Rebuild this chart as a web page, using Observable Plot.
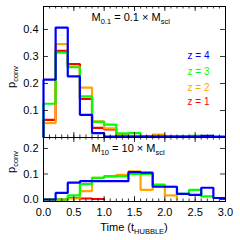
<!DOCTYPE html>
<html>
<head>
<meta charset="utf-8">
<script src="https://cdn.jsdelivr.net/npm/d3@7"></script>
<script src="https://cdn.jsdelivr.net/npm/@observablehq/plot@0.6"></script>
<style>
  html, body { margin: 0; padding: 0; background: #fff; }
  body { width: 240px; height: 240px; overflow: hidden; font-family: "Liberation Sans", Arial, sans-serif; }
  svg { display: block; }
</style>
</head>
<body>
<div id="chart"></div>
<script>
// bin start times (t_HUBBLE), bin width 0.2
const binStarts = [0.0, 0.2, 0.4, 0.6, 0.8, 1.0, 1.2, 1.4, 1.6, 1.8, 2.0, 2.2, 2.4, 2.6, 2.8];
const binEnd = 3.0;
const seriesNames = ["z = 1", "z = 2", "z = 3", "z = 4"];
const seriesColors = ["#ff0000", "#ffa500", "#00ff00", "#0000ff"];

// Top panel: M_0.1 = 0.1 x M_scl
const topZ1 = [0.065, 0.321, 0.272, 0.143, 0.036, 0.030, 0.005, 0.003, 0.003, 0.003, 0.002, 0.002, 0.002, 0.002, 0.002];
const topZ2 = [0.053, 0.346, 0.262, 0.185, 0.060, 0.034, 0.011, 0.005, 0.004, 0.011, 0.003, 0.003, 0.003, 0.003, 0.002];
const topZ3 = [0.125, 0.314, 0.260, 0.152, 0.058, 0.048, 0.015, 0.016, 0.004, 0.004, 0.003, 0.003, 0.006, 0.003, 0.002];
const topZ4 = [0.214, 0.407, 0.226, 0.084, 0.016, 0.003, 0.003, 0.003, 0.003, 0.003, 0.003, 0.003, 0.003, 0.006, 0.002];

// Bottom panel: M_10 = 10 x M_scl (null = no data)
const botZ1 = [0.000, 0.000, 0.006, 0.004, 0.002, null, null, null, null, null, null, null, null, null, null];
const botZ2 = [0.000, 0.000, 0.004, 0.033, 0.085, 0.090, 0.097, 0.110, 0.038, 0.056, 0.016, null, null, null, null];
const botZ3 = [0.000, 0.000, 0.016, 0.060, 0.085, 0.092, 0.092, 0.100, 0.100, 0.058, 0.050, 0.022, 0.038, 0.012, 0.006];
const botZ4 = [0.000, 0.026, 0.066, 0.072, 0.072, 0.072, 0.072, 0.107, 0.105, 0.050, 0.050, 0.022, 0.018, 0.046, 0.006];

const topTicksY = [0.1, 0.2, 0.3, 0.4];
const botTicksY = [0.0, 0.1, 0.2];
const xMajor = [0.0, 0.5, 1.0, 1.5, 2.0, 2.5, 3.0];
const xMinor = d3.range(0, 31).map(i => i / 10);

function stepRows(values, name) {
  const rows = [{x: binStarts[0], y: 0, s: name}];
  let last = -1;
  values.forEach((v, i) => { if (v != null) last = i; });
  for (let i = 0; i <= last; i++) rows.push({x: binStarts[i], y: values[i], s: name});
  if (last === values.length - 1) rows.push({x: binEnd, y: values[last], s: name});
  else rows.push({x: binStarts[last + 1], y: 0, s: name});
  return rows;
}

const W = 240, ML = 43, MR = 15;
const font = "Liberation Sans, Arial, sans-serif";

function panelMarks(series, panelH, yTicks) {
  const marks = [];
  series.forEach((vals, i) => {
    marks.push(Plot.line(stepRows(vals, seriesNames[i]), {
      x: "x", y: "y", curve: "step-after", stroke: seriesColors[i], strokeWidth: 2.2,
      strokeLinejoin: "miter", strokeLinecap: "butt"
    }));
  });
  // inward ticks on all four sides
  marks.push(Plot.ruleX(xMinor, {x: d => d, insetTop: panelH - 2.5, stroke: "black", strokeWidth: 0.8}));
  marks.push(Plot.ruleX(xMinor, {x: d => d, insetBottom: panelH - 2.5, stroke: "black", strokeWidth: 0.8}));
  marks.push(Plot.ruleX(xMajor, {x: d => d, insetTop: panelH - 5, stroke: "black", strokeWidth: 0.8}));
  marks.push(Plot.ruleX(xMajor, {x: d => d, insetBottom: panelH - 5, stroke: "black", strokeWidth: 0.8}));
  marks.push(Plot.ruleY(yTicks, {y: d => d, insetRight: (W - ML - MR) - 5, stroke: "black", strokeWidth: 0.8}));
  marks.push(Plot.ruleY(yTicks, {y: d => d, insetLeft: (W - ML - MR) - 5, stroke: "black", strokeWidth: 0.8}));
  marks.push(Plot.axisY(yTicks, {anchor: "left", label: null, tickSize: 0, tickPadding: 5, tickFormat: d3.format(".1f"), fontSize: 11, fill: "black"}));
  marks.push(Plot.frame({stroke: "black", strokeWidth: 1}));
  return marks;
}

const topH = 137, topMT = 6;
const topPlot = Plot.plot({
  width: W, height: topH, marginLeft: ML, marginRight: MR, marginTop: topMT, marginBottom: 0,
  style: {fontFamily: font, fontSize: "11px", color: "black", background: "white", overflow: "visible"},
  x: {domain: [0, 3], axis: null},
  y: {domain: [0, 0.485], axis: null},
  marks: panelMarks([topZ1, topZ2, topZ3, topZ4], topH - topMT, topTicksY)
});

const botH = 103, botMB = 39;
const botPlot = Plot.plot({
  width: W, height: botH, marginLeft: ML, marginRight: MR, marginTop: 0, marginBottom: botMB,
  style: {fontFamily: font, fontSize: "11px", color: "black", background: "white", overflow: "visible"},
  x: {domain: [0, 3], axis: null},
  y: {domain: [-0.0078, 0.243], axis: null},
  marks: [
    ...panelMarks([botZ1, botZ2, botZ3, botZ4], botH - botMB, botTicksY),
    Plot.axisX(xMajor, {anchor: "bottom", label: null, tickSize: 0, tickPadding: 7, tickFormat: d3.format(".1f"), fontSize: 11, fill: "black"})
  ]
});

const chart = document.getElementById("chart");
chart.appendChild(topPlot);
chart.appendChild(botPlot);

function richText(svg, x, y, parts, opts = {}) {
  const t = d3.select(svg).append("text")
    .attr("x", x).attr("y", y)
    .attr("font-family", font).attr("font-size", opts.size || 11)
    .attr("fill", opts.fill || "black")
    .attr("text-anchor", opts.anchor || "start");
  if (opts.rotate) t.attr("transform", `rotate(${opts.rotate},${x},${y})`);
  let shift = 0;
  parts.forEach(p => {
    const want = p.sub ? 3 : 0;
    t.append("tspan").attr("dy", want - shift).attr("font-size", p.sub ? 7.5 : (opts.size || 11)).text(p.t);
    shift = want;
  });
  return t;
}

// panel labels
richText(topPlot, 91.5, 20.5, [{t: "M"}, {t: "0.1", sub: true}, {t: " = 0.1 × M"}, {t: "scl", sub: true}]);
richText(botPlot, 91.5, 152 - 137, [{t: "M"}, {t: "10", sub: true}, {t: " = 10 × M"}, {t: "scl", sub: true}]);

// y labels
richText(topPlot, 15, 77, [{t: "p"}, {t: "conv", sub: true}], {rotate: -90, anchor: "middle"});
richText(botPlot, 15, 162 - 137, [{t: "p"}, {t: "conv", sub: true}], {rotate: -90, anchor: "middle"});

// x label
richText(botPlot, 134, 231 - 137, [{t: "Time (t"}, {t: "HUBBLE", sub: true}, {t: ")"}], {anchor: "middle"});

// legend (z = 4 at top)
const legendY = [104.5, 90.5, 74.5, 59];
seriesNames.forEach((n, i) => {
  d3.select(topPlot).append("text")
    .attr("x", 209.5).attr("y", legendY[i])
    .attr("text-anchor", "end")
    .attr("font-family", font).attr("font-size", 10)
    .attr("fill", seriesColors[i])
    .text(n);
});
</script>
</body>
</html>
